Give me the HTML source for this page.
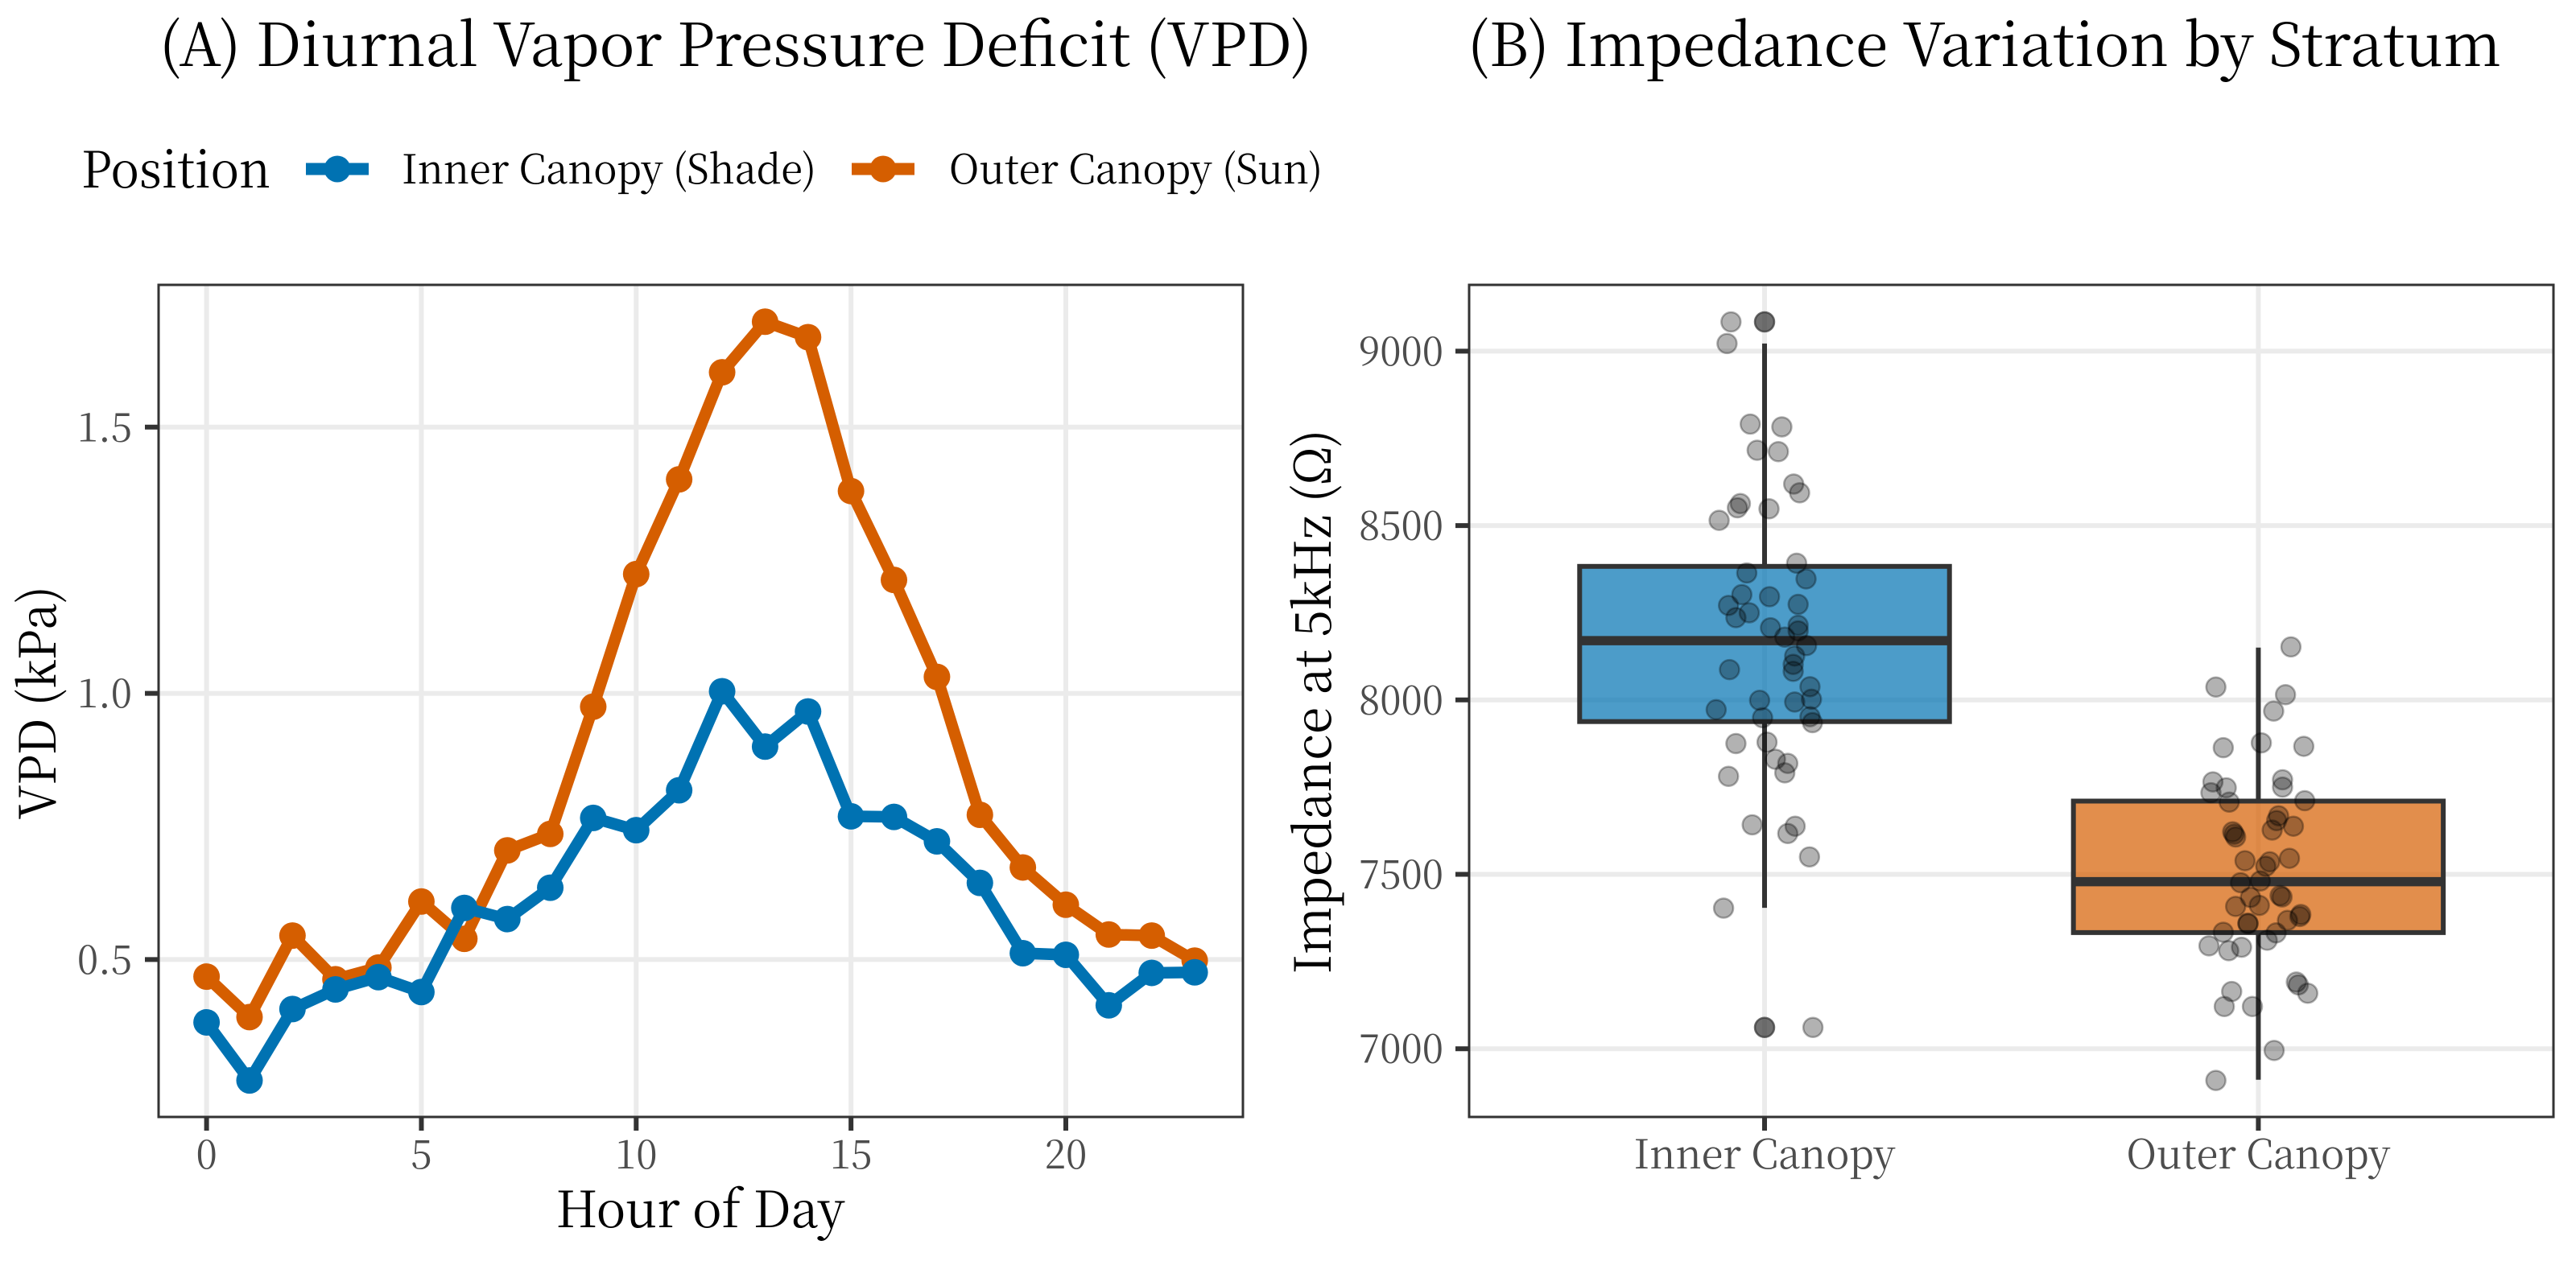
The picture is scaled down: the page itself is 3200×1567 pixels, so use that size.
<!DOCTYPE html>
<html>
<head>
<meta charset="utf-8">
<title>Diurnal VPD and Impedance by Stratum</title>
<style>
html,body{margin:0;padding:0;background:#fff;}
svg{display:block;font-family:"Noto Serif CJK SC","Liberation Serif",serif;}
</style>
</head>
<body>
<svg id="fig" xmlns="http://www.w3.org/2000/svg" width="3200" height="1567" viewBox="0 0 3200 1567">
  <rect x="0" y="0" width="3200" height="1567" fill="#fff"/>
  <text x="198" y="82" font-size="74" fill="#000" textLength="1432" lengthAdjust="spacingAndGlyphs">(A) Diurnal Vapor Pressure Deficit (VPD)</text>
  <text x="1823" y="82" font-size="74" fill="#000" textLength="1284" lengthAdjust="spacingAndGlyphs">(B) Impedance Variation by Stratum</text>

  <g>
    <text x="101" y="233" font-size="62.5" fill="#000" textLength="235" lengthAdjust="spacingAndGlyphs">Position</text>
    <g>
      <line x1="380" y1="210" x2="458" y2="210" stroke="#0072B2" stroke-width="15"/>
      <circle cx="419" cy="210" r="16.5" fill="#0072B2"/>
    </g>
    <text x="499" y="228" font-size="50" fill="#000" textLength="515" lengthAdjust="spacingAndGlyphs">Inner Canopy (Shade)</text>
    <g>
      <line x1="1058" y1="210" x2="1136" y2="210" stroke="#D55E00" stroke-width="15"/>
      <circle cx="1097" cy="210" r="16.5" fill="#D55E00"/>
    </g>
    <text x="1179" y="228" font-size="50" fill="#000" textLength="464" lengthAdjust="spacingAndGlyphs">Outer Canopy (Sun)</text>
  </g>

  <g id="panelA"></g>
  <g id="panelB"></g>

  <text x="870" y="1525" font-size="62.5" fill="#000" text-anchor="middle" textLength="359" lengthAdjust="spacingAndGlyphs">Hour of Day</text>
  <text transform="translate(69 873) rotate(-90)" font-size="62.5" fill="#000" text-anchor="middle" textLength="290" lengthAdjust="spacingAndGlyphs">VPD (kPa)</text>
  <text transform="translate(1653 872) rotate(-90)" font-size="62.5" fill="#000" text-anchor="middle" textLength="677" lengthAdjust="spacingAndGlyphs">Impedance at 5kHz (Ω)</text>
</svg>

<script>
// Panel A data
const hours = [0,1,2,3,4,5,6,7,8,9,10,11,12,13,14,15,16,17,18,19,20,21,22,23];
const innerVpd = [0.382,0.273,0.407,0.444,0.467,0.439,0.597,0.576,0.635,0.766,0.743,0.818,1.004,0.900,0.966,0.769,0.768,0.722,0.644,0.512,0.509,0.414,0.475,0.476];
const outerVpd = [0.468,0.392,0.545,0.463,0.485,0.609,0.539,0.705,0.736,0.975,1.224,1.402,1.603,1.698,1.669,1.380,1.213,1.031,0.772,0.673,0.603,0.547,0.545,0.498];
const hourTicks = [0,5,10,15,20];
const vpdTicks = [0.5,1.0,1.5];
const vpdTickLabels = ["0.5","1.0","1.5"];

// Panel B data
const categories = ["Inner Canopy","Outer Canopy"];
const impedanceTicks = [7000,7500,8000,8500,9000];
const impedanceTickLabels = ["7000","7500","8000","8500","9000"];
const boxLower = [7938,7333];
const boxMedian = [8170,7479];
const boxUpper = [8383,7710];
const whiskerLow = [7404,6911];
const whiskerHigh = [9022,8150];
const innerOutliers = [9084,7061];
const outerOutliers = [];
const innerImpedance = [9084,9022,8791,8783,8716,8712,8619,8594,8563,8551,8548,8515,8392,8364,8347,8302,8296,8274,8271,8250,8236,8214,8207,8198,8180,8156,8126,8102,8082,8087,8038,8002,7999,7994,7972,7949,7952,7935,7875,7879,7830,7818,7791,7781,7642,7638,7617,7550,7403,7061];
const innerJitter = [-0.068,-0.076,-0.029,0.035,-0.015,0.028,0.059,0.071,-0.049,-0.055,0.009,-0.092,0.065,-0.036,0.084,-0.046,0.010,0.068,-0.073,-0.031,-0.058,0.068,0.012,0.068,0.041,0.085,0.061,0.058,0.058,-0.071,0.092,0.095,-0.010,0.061,-0.098,-0.004,0.092,0.097,-0.058,0.005,0.022,0.047,0.041,-0.073,-0.025,0.062,0.047,0.091,-0.083,0.098];
const outerImpedance = [8152,8037,8015,7968,7877,7863,7867,7765,7771,7750,7748,7734,7707,7711,7668,7654,7638,7627,7622,7615,7607,7546,7539,7536,7523,7481,7476,7439,7435,7434,7411,7408,7385,7379,7368,7360,7358,7332,7334,7311,7295,7291,7281,7191,7183,7159,7164,7121,7121,6995,6909];
const outerJitter = [0.066,-0.086,0.055,0.031,0.006,-0.071,0.092,-0.092,0.049,0.049,-0.065,-0.096,-0.059,0.094,0.041,0.037,0.071,0.028,-0.052,-0.049,-0.046,0.063,-0.027,0.023,0.015,0.004,-0.036,0.044,0.048,-0.016,0.002,-0.046,0.086,0.084,0.059,-0.021,-0.021,0.036,-0.071,0.018,-0.100,-0.034,-0.060,0.077,0.081,0.100,-0.054,-0.069,-0.012,0.032,-0.086];

const NS = "http://www.w3.org/2000/svg";
const BLUE = "#0072B2", ORANGE = "#D55E00", GRID = "#ebebeb", DARK = "#333333", TICKTXT = "#4d4d4d";
const TEXT_SQUEEZE = 0.955;

function mk(parent, tag, attrs, text) {
  const el = document.createElementNS(NS, tag);
  for (const k in attrs) el.setAttribute(k, attrs[k]);
  if (text !== undefined) el.textContent = text;
  parent.appendChild(el);
  return el;
}

function squeeze(el) {
  el.setAttribute("textLength", (el.getComputedTextLength() * TEXT_SQUEEZE).toFixed(1));
  el.setAttribute("lengthAdjust", "spacingAndGlyphs");
}

// Panel geometry
const A = {l:197, r:1544, t:354, b:1388};
const B = {l:1825, r:3172, t:354, b:1388};

// Axis functions
function xA(h) { return 256.6 + 53.37 * h; }
function yA(v) { return 1192.4 - (v - 0.5) * 661.6; }
function xB(i) { return 2192 + 613.4 * i; }
function yB(v) { return 436.4 + (9000 - v) * 0.4334; }

function drawPanelA() {
  const g = document.getElementById("panelA");
  mk(g, "rect", {x:A.l, y:A.t, width:A.r-A.l, height:A.b-A.t, fill:"#fff"});
  vpdTicks.forEach(function(v) {
    const line = mk(g, "line", {x1:A.l, x2:A.r, y1:yA(v), y2:yA(v), stroke:GRID, "stroke-width":6});
    
    
  });
  hourTicks.forEach(function(h) {
    const line = mk(g, "line", {x1:xA(h), x2:xA(h), y1:A.t, y2:A.b, stroke:GRID, "stroke-width":6});
    
    
  });
  drawSeries(g, outerVpd, ORANGE, "outer");
  drawSeries(g, innerVpd, BLUE, "inner");
  drawFrame(g, A);
  vpdTicks.forEach(function(v, i) {
    const tick = mk(g, "line", {x1:A.l-17, x2:A.l, y1:yA(v), y2:yA(v), stroke:DARK, "stroke-width":6});
    
    
    const label = mk(g, "text", {x:164, y:yA(v)+17.5, "font-size":50, fill:TICKTXT, "text-anchor":"end"}, vpdTickLabels[i]);
    
    
    squeeze(label);
  });
  hourTicks.forEach(function(h) {
    const tick = mk(g, "line", {x1:xA(h), x2:xA(h), y1:A.b, y2:A.b+17, stroke:DARK, "stroke-width":6});
    
    
    const label = mk(g, "text", {x:xA(h), y:1452, "font-size":50, fill:TICKTXT, "text-anchor":"middle"}, String(h));
    
    
    squeeze(label);
  });
}

function drawSeries(g, values, color, key) {
  const pts = values.map(function(v, i) { return xA(hours[i]) + "," + yA(v); }).join(" ");
  const line = mk(g, "polyline", {points:pts, fill:"none", stroke:color, "stroke-width":14.5, "stroke-linejoin":"round", "stroke-linecap":"butt"});
  
  
  values.forEach(function(v, i) {
    const dot = mk(g, "circle", {cx:xA(hours[i]), cy:yA(v), r:16.5, fill:color});
    
    
  });
}

function drawFrame(g, P) {
  const frame = mk(g, "rect", {x:P.l, y:P.t, width:P.r-P.l, height:P.b-P.t, fill:"none", stroke:DARK, "stroke-width":3});
  
  
}

function drawPanelB() {
  const g = document.getElementById("panelB");
  mk(g, "rect", {x:B.l, y:B.t, width:B.r-B.l, height:B.b-B.t, fill:"#fff"});
  impedanceTicks.forEach(function(v) {
    const line = mk(g, "line", {x1:B.l, x2:B.r, y1:yB(v), y2:yB(v), stroke:GRID, "stroke-width":6});
    
    
  });
  categories.forEach(function(c, i) {
    const line = mk(g, "line", {x1:xB(i), x2:xB(i), y1:B.t, y2:B.b, stroke:GRID, "stroke-width":6});
    
    
  });
  const fills = [BLUE, ORANGE];
  const outlierSets = [innerOutliers, outerOutliers];
  const halfWidth = 0.3745;
  categories.forEach(function(c, i) {
    const whisker1 = mk(g, "line", {x1:xB(i), x2:xB(i), y1:yB(whiskerHigh[i]), y2:yB(boxUpper[i]), stroke:DARK, "stroke-width":6});
    
    
    const whisker2 = mk(g, "line", {x1:xB(i), x2:xB(i), y1:yB(boxLower[i]), y2:yB(whiskerLow[i]), stroke:DARK, "stroke-width":6});
    
    
    outlierSets[i].forEach(function(v) {
      const o = mk(g, "circle", {cx:xB(i), cy:yB(v), r:12, fill:DARK, "fill-opacity":0.7, stroke:DARK, "stroke-opacity":0.7, "stroke-width":2.5});
      
      
    });
    const box = mk(g, "rect", {x:xB(i-halfWidth), y:yB(boxUpper[i]), width:xB(i+halfWidth)-xB(i-halfWidth), height:yB(boxLower[i])-yB(boxUpper[i]), fill:fills[i], "fill-opacity":0.7, stroke:DARK, "stroke-width":6});
    
    
    const med = mk(g, "line", {x1:xB(i-halfWidth), x2:xB(i+halfWidth), y1:yB(boxMedian[i]), y2:yB(boxMedian[i]), stroke:DARK, "stroke-width":11.5});
    
    
  });
  drawJitter(g, innerImpedance, innerJitter, 0, "inner");
  drawJitter(g, outerImpedance, outerJitter, 1, "outer");
  drawFrame(g, B);
  impedanceTicks.forEach(function(v, i) {
    const tick = mk(g, "line", {x1:B.l-17, x2:B.l, y1:yB(v), y2:yB(v), stroke:DARK, "stroke-width":6});
    
    
    const label = mk(g, "text", {x:1793, y:yB(v)+17.5, "font-size":50, fill:TICKTXT, "text-anchor":"end"}, impedanceTickLabels[i]);
    
    
    squeeze(label);
  });
  categories.forEach(function(c, i) {
    const tick = mk(g, "line", {x1:xB(i), x2:xB(i), y1:B.b, y2:B.b+17, stroke:DARK, "stroke-width":6});
    
    
    const label = mk(g, "text", {x:xB(i), y:1452, "font-size":50, fill:TICKTXT, "text-anchor":"middle"}, c);
    
    
    label.setAttribute("textLength", (label.getComputedTextLength() * 0.975).toFixed(1));
    label.setAttribute("lengthAdjust", "spacingAndGlyphs");
  });
}

function drawJitter(g, values, jitter, cat, key) {
  values.forEach(function(v, i) {
    const p = mk(g, "circle", {cx:xB(cat + jitter[i]), cy:yB(v), r:12, fill:"#000", "fill-opacity":0.3, stroke:"#000", "stroke-opacity":0.3, "stroke-width":2.5});
    
    
  });
}

drawPanelA();
drawPanelB();
</script>
</body>
</html>
